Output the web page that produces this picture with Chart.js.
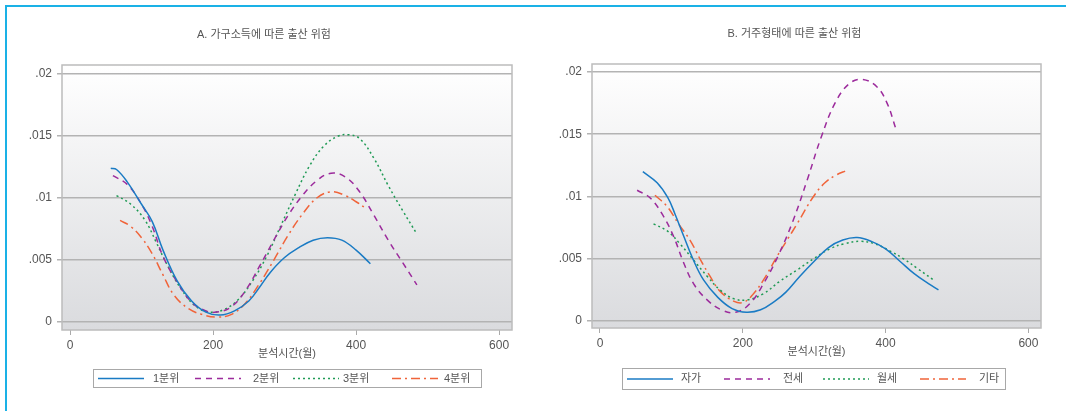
<!DOCTYPE html>
<html>
<head>
<meta charset="utf-8">
<script src="https://cdn.jsdelivr.net/npm/chart.js@4.4.1/dist/chart.umd.min.js"></script>
<style>
  body { margin: 0; background: #fff; width: 1066px; height: 411px; overflow: hidden; position: relative; }
  #frame { position: absolute; left: 5px; top: 5px; width: 1061px; height: 406px;
           border-top: 2px solid #1ab1e6; border-left: 2px solid #1ab1e6; }
  canvas { position: absolute; top: 0; }
</style>
</head>
<body>
<div id="frame"></div>
<canvas id="chartA" width="520" height="411" style="left:16px"></canvas>
<canvas id="chartB" width="518" height="411" style="left:548px"></canvas>
<script>
// [분석시간(월), 출산 위험]
const incomeQ1 = [[57,0.0124],[65,0.0123],[80,0.0113],[100,0.0095],[115,0.0081],[130,0.0058],[150,0.0033],[170,0.0017],[190,0.0008],[210,0.00056],[230,0.0009],[250,0.0017],[265,0.0028],[280,0.0040],[300,0.0052],[320,0.0060],[340,0.0066],[360,0.0068],[380,0.0066],[400,0.0058],[420,0.0047]];
const incomeQ2 = [[60,0.0118],[80,0.0111],[100,0.0095],[115,0.0077],[130,0.0053],[150,0.0032],[170,0.0016],[190,0.0009],[205,0.0008],[225,0.0012],[245,0.0025],[265,0.0045],[285,0.0066],[305,0.0086],[325,0.0102],[345,0.0114],[365,0.0120],[385,0.0117],[405,0.0105],[425,0.0086],[445,0.0066],[465,0.0048],[485,0.0030]];
const incomeQ3 = [[65,0.0102],[85,0.0095],[105,0.0082],[120,0.0065],[135,0.0047],[155,0.0027],[175,0.0013],[195,0.0008],[215,0.0010],[235,0.0018],[255,0.0033],[275,0.0053],[295,0.0078],[315,0.0103],[335,0.0126],[355,0.0142],[375,0.0150],[390,0.0151],[405,0.0148],[425,0.0132],[445,0.0110],[465,0.0090],[485,0.0071]];
const incomeQ4 = [[70,0.0082],[85,0.0077],[100,0.0068],[115,0.0055],[130,0.0038],[145,0.0022],[165,0.0011],[185,0.0006],[205,0.0004],[225,0.0006],[245,0.0015],[265,0.0031],[285,0.0050],[305,0.0070],[325,0.0087],[345,0.0100],[365,0.0105],[385,0.0102],[400,0.0097],[413,0.0092]];

const houseOwn = [[60,0.0120],[80,0.0111],[95,0.0099],[105,0.0086],[118,0.0067],[130,0.0050],[145,0.0033],[165,0.0019],[185,0.0010],[205,0.0007],[225,0.0009],[245,0.0016],[260,0.0023],[280,0.0036],[300,0.0048],[320,0.0059],[340,0.0065],[360,0.0067],[380,0.0064],[400,0.0058],[420,0.0048],[440,0.0038],[460,0.0030],[474,0.0025]];
const houseJeonse = [[52,0.0105],[70,0.0099],[88,0.0085],[103,0.0068],[117,0.0047],[131,0.0030],[150,0.0017],[170,0.0009],[190,0.0007],[210,0.0014],[230,0.0031],[250,0.0053],[270,0.0080],[290,0.0113],[310,0.0148],[330,0.0176],[350,0.0191],[368,0.0194],[388,0.0188],[402,0.0175],[414,0.0155]];
const houseMonthly = [[75,0.0078],[95,0.0072],[112,0.0062],[131,0.0049],[150,0.0036],[168,0.0025],[187,0.0018],[206,0.0017],[229,0.0022],[252,0.0032],[276,0.0041],[299,0.0050],[322,0.0058],[342,0.0062],[364,0.0064],[385,0.0062],[407,0.0056],[425,0.0050],[445,0.0042],[467,0.0033]];
const houseOther = [[77,0.0101],[94,0.0092],[110,0.0078],[126,0.0065],[140,0.0050],[154,0.0036],[168,0.0024],[187,0.0016],[201,0.0015],[215,0.0022],[229,0.0033],[248,0.0052],[262,0.0065],[276,0.0078],[299,0.0100],[315,0.0111],[330,0.0117],[346,0.0121]];

const incomeNames = ['1분위', '2분위', '3분위', '4분위'];
const houseNames = ['자가', '전세', '월세', '기타'];
const xTickValues = [0, 200, 400, 600];
const yTickValues = [0, 0.005, 0.01, 0.015, 0.02];
const yTickLabels = ['0', '.005', '.01', '.015', '.02'];

const FONT = "'Liberation Sans', 'Noto Sans CJK KR', sans-serif";
const TEXT = '#555';
const lineStyles = [
  { borderColor: '#1a7bc4', borderDash: [] },
  { borderColor: '#9c2b9c', borderDash: [6, 5] },
  { borderColor: '#1f9a55', borderDash: [2, 3] },
  { borderColor: '#f0643a', borderDash: [9, 4, 2, 4] }
];

const panelDeco = {
  id: 'panelDeco',
  beforeDraw(chart) {
    const { ctx, chartArea: a } = chart;
    const g = ctx.createLinearGradient(0, a.top, 0, a.bottom);
    g.addColorStop(0, '#ffffff');
    g.addColorStop(1, '#dadbde');
    ctx.save();
    ctx.fillStyle = g;
    ctx.fillRect(a.left, a.top, a.right - a.left, a.bottom - a.top);
    ctx.restore();
  },
  afterDraw(chart, args, opts) {
    const { ctx, chartArea: a } = chart;
    ctx.save();
    ctx.strokeStyle = '#bcbcbc';
    ctx.lineWidth = 1.5;
    ctx.strokeRect(a.left, a.top, a.right - a.left, a.bottom - a.top);

    // legend box
    const L = opts.legend;
    ctx.fillStyle = '#fff';
    ctx.fillRect(L.x0, L.y0, L.x1 - L.x0, L.y1 - L.y0);
    ctx.strokeStyle = '#a8a8a8';
    ctx.lineWidth = 1;
    ctx.strokeRect(L.x0 + 0.5, L.y0 + 0.5, L.x1 - L.x0, L.y1 - L.y0);
    const yc = (L.y0 + L.y1) / 2 + 0.5;
    chart.data.datasets.forEach((ds, i) => {
      ctx.strokeStyle = ds.borderColor;
      ctx.lineWidth = 1.5;
      ctx.setLineDash(ds.borderDash);
      ctx.beginPath();
      ctx.moveTo(L.lineX[i], yc);
      ctx.lineTo(L.lineX[i] + 46, yc);
      ctx.stroke();
      ctx.setLineDash([]);
      ctx.fillStyle = TEXT;
      ctx.font = '11px ' + FONT;
      ctx.textBaseline = 'middle';
      ctx.fillText(ds.label, L.textX[i], yc);
    });
    ctx.restore();
  }
};

function makeChart(id, title, series, names, box) {
  const datasets = series.map((s, i) => ({
    label: names[i],
    data: s.map(p => ({ x: p[0], y: p[1] })),
    borderColor: lineStyles[i].borderColor,
    borderDash: lineStyles[i].borderDash,
    borderWidth: 1.5,
    pointRadius: 0,
    fill: false,
    tension: 0.4
  }));
  return new Chart(document.getElementById(id), {
    type: 'line',
    data: { datasets },
    plugins: [panelDeco],
    options: {
      responsive: false,
      devicePixelRatio: 1,
      animation: false,
      layout: { padding: { left: 0, right: box.padRight, top: 0, bottom: 0 } },
      plugins: {
        legend: { display: false },
        tooltip: { enabled: false },
        title: {
          display: true, text: title, color: TEXT,
          font: { family: FONT, size: 11, weight: 'normal', lineHeight: 1.2 },
          padding: { top: box.titleTop, bottom: box.titleBottom }
        },
        panelDeco: { legend: box.legend }
      },
      scales: {
        x: {
          type: 'linear', min: box.xMin, max: box.xMax,
          afterBuildTicks: s => { s.ticks = xTickValues.map(v => ({ value: v })); },
          afterFit: s => { s.height = box.xHeight; },
          grid: { drawOnChartArea: false, drawTicks: true, tickLength: 5, color: '#aaa', lineWidth: 1 },
          border: { display: false },
          ticks: { color: TEXT, font: { family: FONT, size: 12 }, padding: 3, maxRotation: 0 },
          title: {
            display: true, text: '분석시간(월)', color: TEXT,
            font: { family: FONT, size: 11, lineHeight: 1.2 },
            padding: { top: 0, bottom: box.xTitleBottom }
          }
        },
        y: {
          type: 'linear', min: box.yMin, max: box.yMax,
          afterBuildTicks: s => { s.ticks = yTickValues.map(v => ({ value: v })); },
          afterFit: s => { s.width = box.yWidth; },
          grid: { drawTicks: true, tickLength: 5, color: '#b3b3b3', lineWidth: 1.5 },
          border: { display: false },
          ticks: {
            color: TEXT, font: { family: FONT, size: 12 }, padding: 5,
            callback: (v, i) => yTickLabels[i]
          }
        }
      }
    }
  });
}

makeChart('chartA', 'A. 가구소득에 따른 출산 위험', [incomeQ1, incomeQ2, incomeQ3, incomeQ4], incomeNames, {
  padRight: 24, yWidth: 46, xHeight: 81, xTitleBottom: 50,
  titleTop: 28.4, titleBottom: 23.4,
  xMin: -11.2, xMax: 618, yMin: -0.000645, yMax: 0.02073,
  legend: { x0: 77, x1: 465, y0: 369, y1: 387, lineX: [82, 179, 277, 376], textX: [137, 237, 327, 428] }
});

makeChart('chartB', 'B. 거주형태에 따른 출산 위험', [houseOwn, houseJeonse, houseMonthly, houseOther], houseNames, {
  padRight: 25, yWidth: 44, xHeight: 83, xTitleBottom: 52,
  titleTop: 27.4, titleBottom: 23.4,
  xMin: -11.2, xMax: 617.6, yMin: -0.00056, yMax: 0.02064,
  legend: { x0: 74, x1: 457, y0: 368, y1: 389, lineX: [79, 176, 275, 372], textX: [133, 235, 329, 431] }
});
</script>
</body>
</html>
